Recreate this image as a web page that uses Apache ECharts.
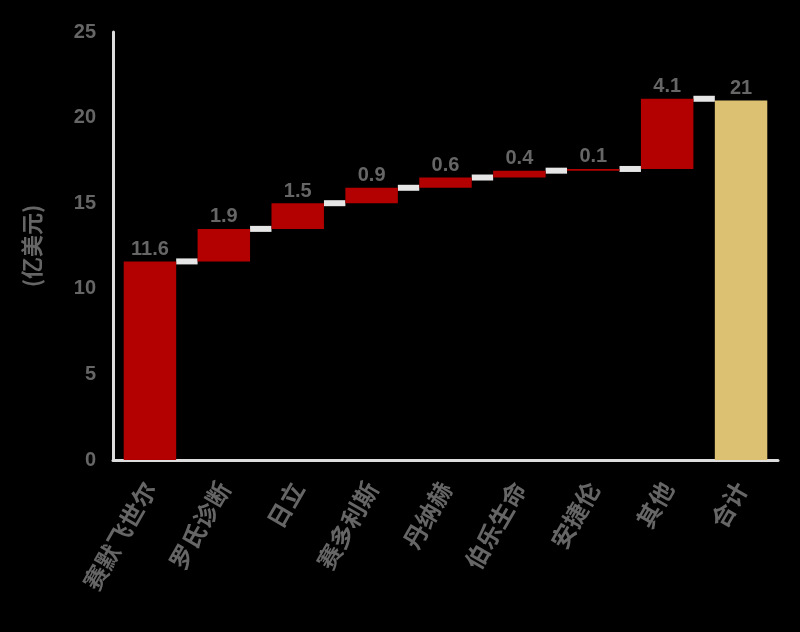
<!DOCTYPE html>
<html><head><meta charset="utf-8">
<script src="https://cdn.jsdelivr.net/npm/echarts@6/dist/echarts.min.js"></script>
<style>html,body{margin:0;padding:0;background:#000;}#c{width:800px;height:632px;}</style>
</head><body><div id="c"></div>
<script>
const categories = ["赛默飞世尔","罗氏诊断","日立","赛多利斯","丹纳赫","伯乐生命","安捷伦","其他","合计"];
const deltas = [11.6, 1.9, 1.5, 0.9, 0.6, 0.4, 0.1, 4.1];
const total = 21;
const labels = ["11.6","1.9","1.5","0.9","0.6","0.4","0.1","4.1","21"];
const yTicks = [0,5,10,15,20,25];

const bases = [], vals = [], cum = [];
let run = 0;
deltas.forEach(d => { bases.push(run); vals.push(d); run += d; cum.push(run); });
bases.push(0); vals.push(total);

const chart = echarts.init(document.getElementById('c'));
const lbl = {color:'#666', fontWeight:'bold', fontSize:20, fontFamily:'Liberation Sans, Arial'};
chart.setOption({
  backgroundColor:'#000',
  animation:false,
  grid:{left:113, right:22, top:32, bottom:172},
  xAxis:{type:'category', data:categories,
    axisLine:{lineStyle:{color:'#ddd', width:3}}, axisTick:{show:false},
    axisLabel:{...lbl, fontSize:24, fontFamily:'Noto Sans CJK SC', rotate:60, margin:24, interval:0}},
  yAxis:{type:'value', min:yTicks[0], max:yTicks[yTicks.length-1], interval:5,
    name:'(亿美元)', nameLocation:'middle', nameGap:70, nameRotate:90,
    nameTextStyle:{...lbl, fontSize:22, fontFamily:'Noto Sans CJK SC'},
    axisLine:{show:true, lineStyle:{color:'#ddd', width:3}}, axisTick:{show:false},
    splitLine:{show:false}, axisLabel:{...lbl, margin:17}},
  series:[
    {type:'bar', stack:'w', data:bases, barWidth:'71%', itemStyle:{color:'transparent'}, silent:true},
    {type:'bar', stack:'w', data:vals.map((v,i)=>({value:v, itemStyle:{color: i===vals.length-1?'#DCC172':'#B30000'}})),
      label:{show:true, position:'top', distance:2, ...lbl, formatter:p=>labels[p.dataIndex]}},
    {type:'custom', z:1,
      data:cum.map((v,i)=>[i,v]),
      renderItem:(params, api)=>{
        const i = api.value(0), v = api.value(1);
        const p1 = api.coord([i, v]), p2 = api.coord([i+1, v]);
        const bw = api.size([1,0])[0]*0.71/2;
        return {type:'line', shape:{x1:p1[0]+bw, y1:p1[1], x2:p2[0]-bw, y2:p2[1]},
          style:{stroke:'#e6e6e6', lineWidth:6}};
      }}
  ]
});
</script></body></html>
